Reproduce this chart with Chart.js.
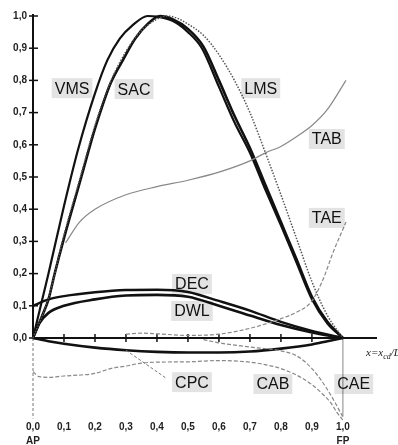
<!DOCTYPE html>
<html><head><meta charset="utf-8">
<script src="https://cdn.jsdelivr.net/npm/chart.js@4/dist/chart.umd.min.js"></script>
<style>html,body{margin:0;padding:0;background:#fff}</style>
</head><body>
<canvas id="c" width="398" height="445"></canvas>
<script>
// ---- tick values ----
const xTicks = [0, 0.1, 0.2, 0.3, 0.4, 0.5, 0.6, 0.7, 0.8, 0.9, 1.0];
const yTicks = [0, 0.1, 0.2, 0.3, 0.4, 0.5, 0.6, 0.7, 0.8, 0.9, 1.0];
const xEndLabels = {0: 'AP', 1: 'FP'};

// ---- series ----
const vmsX = [0, 0.03, 0.05, 0.1, 0.145, 0.2, 0.24, 0.28, 0.32, 0.37, 0.4, 0.45, 0.5, 0.545, 0.6, 0.65, 0.7, 0.75, 0.8, 0.85, 0.9, 0.95, 1.0];
const vmsY = [0, 0.12, 0.2, 0.41, 0.584, 0.76, 0.863, 0.93, 0.97, 1.0, 0.998, 0.985, 0.95, 0.9, 0.78, 0.67, 0.575, 0.46, 0.35, 0.235, 0.12, 0.045, 0];

const sacX = [0, 0.03, 0.05, 0.07, 0.1, 0.15, 0.18, 0.2, 0.25, 0.29, 0.33, 0.37, 0.41, 0.45, 0.5, 0.55, 0.6, 0.65, 0.7, 0.75, 0.8, 0.85, 0.9, 0.95, 1.0];
const sacY = [0, 0.07, 0.12, 0.2, 0.31, 0.48, 0.584, 0.65, 0.79, 0.863, 0.93, 0.975, 1.0, 0.99, 0.96, 0.905, 0.8, 0.69, 0.59, 0.475, 0.36, 0.245, 0.128, 0.05, 0];

const lmsX = [0, 0.05, 0.1, 0.15, 0.2, 0.25, 0.3, 0.35, 0.4, 0.43, 0.46, 0.5, 0.55, 0.6, 0.65, 0.7, 0.75, 0.8, 0.85, 0.9, 0.95, 1.0];
const lmsY = [0, 0.125, 0.32, 0.49, 0.66, 0.795, 0.89, 0.955, 0.99, 1.0, 0.995, 0.975, 0.94, 0.88, 0.8, 0.7, 0.575, 0.445, 0.31, 0.175, 0.07, 0];

const tabX = [0.105, 0.15, 0.2, 0.3, 0.4, 0.5, 0.6, 0.7, 0.75, 0.8, 0.85, 0.9, 0.95, 1.01];
const tabY = [0.295, 0.36, 0.40, 0.445, 0.47, 0.49, 0.515, 0.55, 0.575, 0.595, 0.625, 0.66, 0.71, 0.80];

const taeX = [0.3, 0.35, 0.4, 0.5, 0.6, 0.7, 0.8, 0.85, 0.9, 0.935, 0.97, 1.01];
const taeY = [0.012, 0.015, 0.013, 0.008, 0.012, 0.03, 0.06, 0.08, 0.115, 0.18, 0.27, 0.36];

const decX = [0, 0.05, 0.1, 0.2, 0.3, 0.4, 0.5, 0.6, 0.7, 0.8, 0.9, 1.0];
const decY = [0.10, 0.12, 0.13, 0.142, 0.149, 0.15, 0.143, 0.115, 0.085, 0.05, 0.022, 0];

const dwlX = [0, 0.02, 0.05, 0.1, 0.2, 0.3, 0.4, 0.5, 0.6, 0.7, 0.8, 0.9, 1.0];
const dwlY = [0, 0.045, 0.078, 0.1, 0.12, 0.132, 0.134, 0.128, 0.1, 0.07, 0.04, 0.017, 0];

const cpcX = [0, 0.05, 0.1, 0.2, 0.3, 0.4, 0.5, 0.6, 0.7, 0.8, 0.9, 0.95, 1.0];
const cpcY = [0, -0.01, -0.018, -0.03, -0.038, -0.043, -0.045, -0.045, -0.042, -0.033, -0.02, -0.01, 0];

const cabX = [0, 0.02, 0.05, 0.1, 0.15, 0.2, 0.25, 0.3, 0.35, 0.4, 0.5, 0.6, 0.7, 0.76, 0.8, 0.86, 0.9, 0.93, 0.96, 0.98, 1.0];
const cabY = [-0.105, -0.12, -0.122, -0.118, -0.115, -0.11, -0.095, -0.087, -0.078, -0.075, -0.074, -0.07, -0.075, -0.085, -0.095, -0.12, -0.145, -0.17, -0.2, -0.23, -0.255];

const caeX = [0.55, 0.6, 0.7, 0.8, 0.85, 0.9, 0.95, 1.0];
const caeY = [-0.005, -0.015, -0.028, -0.04, -0.055, -0.095, -0.16, -0.245];

// ---- curve labels (text, x, y in data units) ----
const labelText = ['VMS', 'SAC', 'LMS', 'TAB', 'TAE', 'DEC', 'DWL', 'CPC', 'CAB', 'CAE'];
const labelX = [0.126, 0.326, 0.735, 0.948, 0.948, 0.513, 0.513, 0.513, 0.774, 1.035];
const labelY = [0.776, 0.773, 0.776, 0.618, 0.373, 0.168, 0.084, -0.137, -0.143, -0.143];

// CPC leader line (data units)
const leaderX = [0.3, 0.43];
const leaderY = [-0.038, -0.125];

const FONT = '"Liberation Sans", Arial, sans-serif';
const toPts = (xs, ys) => xs.map((x, i) => ({x, y: ys[i]}));
const fmt = v => v.toFixed(1).replace('.', ',');

function ds(label, xs, ys, color, width, dash) {
  return {
    label, data: toPts(xs, ys), borderColor: color, borderWidth: width,
    borderDash: dash || [], pointRadius: 0, fill: false,
    cubicInterpolationMode: 'monotone', clip: false
  };
}

const axesPlugin = {
  id: 'axesPlugin',
  beforeDatasetsDraw(chart) {
    const {ctx, scales: {x, y}} = chart;
    const x0 = x.getPixelForValue(0), y0 = y.getPixelForValue(0);
    const x1 = x.getPixelForValue(1);
    ctx.save();
    // lower dashed parts
    ctx.strokeStyle = '#777'; ctx.lineWidth = 1; ctx.setLineDash([3, 2]);
    ctx.beginPath(); ctx.moveTo(x0, y0); ctx.lineTo(x0, y.getPixelForValue(y.min)); ctx.stroke();
    ctx.setLineDash([]);
    ctx.strokeStyle = '#888';
    ctx.beginPath(); ctx.moveTo(x1, y0); ctx.lineTo(x1, y.getPixelForValue(y.min) - 2); ctx.stroke();
    // y axis
    ctx.strokeStyle = '#111'; ctx.lineWidth = 2;
    ctx.beginPath(); ctx.moveTo(x0, y.getPixelForValue(1) - 2); ctx.lineTo(x0, y0); ctx.stroke();
    ctx.lineWidth = 1.5;
    yTicks.forEach(v => {
      const p = y.getPixelForValue(v);
      ctx.beginPath(); ctx.moveTo(x0 - 4, p); ctx.lineTo(x0 + 5, p); ctx.stroke();
    });
    // x axis
    ctx.lineWidth = 2;
    ctx.beginPath(); ctx.moveTo(x0, y0); ctx.lineTo(x.right, y0); ctx.stroke();
    ctx.lineWidth = 1.5;
    xTicks.forEach(v => {
      if (v === 0 || v === 1) return;
      const p = x.getPixelForValue(v);
      ctx.beginPath(); ctx.moveTo(p, y0 - 4); ctx.lineTo(p, y0 + 4); ctx.stroke();
    });
    // axis title x = x_cd / L
    ctx.fillStyle = '#222';
    ctx.textBaseline = 'alphabetic'; ctx.textAlign = 'left';
    let tx = x.right - 11, ty = y0 + 18;
    ctx.font = 'italic 11px "Liberation Serif", serif';
    ctx.fillText('x=x', tx, ty); tx += ctx.measureText('x=x').width;
    ctx.font = 'italic 8px "Liberation Serif", serif';
    ctx.fillText('cd', tx, ty + 3); tx += ctx.measureText('cd').width;
    ctx.font = 'italic 11px "Liberation Serif", serif';
    ctx.fillText('/L', tx, ty);
    ctx.restore();
  },
  afterDatasetsDraw(chart) {
    const {ctx, scales: {x, y}} = chart;
    ctx.save();
    // leader line
    ctx.strokeStyle = '#777'; ctx.lineWidth = 1; ctx.setLineDash([3, 2]);
    ctx.beginPath();
    ctx.moveTo(x.getPixelForValue(leaderX[0]), y.getPixelForValue(leaderY[0]));
    ctx.lineTo(x.getPixelForValue(leaderX[1]), y.getPixelForValue(leaderY[1]));
    ctx.stroke();
    ctx.setLineDash([]);
    ctx.font = '16px ' + FONT;
    ctx.textAlign = 'center'; ctx.textBaseline = 'middle';
    labelText.forEach((t, i) => {
      const px = x.getPixelForValue(labelX[i]), py = y.getPixelForValue(labelY[i]);
      const w = ctx.measureText(t).width;
      ctx.fillStyle = 'rgba(0,0,0,0.11)';
      ctx.fillRect(px - w / 2 - 3, py - 10, w + 6, 20);
      ctx.fillStyle = '#111';
      ctx.fillText(t, px, py + 1);
    });
    ctx.restore();
  }
};

new Chart(document.getElementById('c'), {
  type: 'line',
  data: {
    datasets: [
      ds('LMS', lmsX, lmsY, '#555', 1.5, [1.5, 1.5]),
      ds('TAB', tabX, tabY, '#888', 1.2),
      ds('TAE', taeX, taeY, '#888', 1.2, [4, 2]),
      ds('CAB', cabX, cabY, '#888', 1.2, [4, 2]),
      ds('CAE', caeX, caeY, '#888', 1.2, [4, 2]),
      ds('VMS', vmsX, vmsY, '#111', 2.2),
      ds('SAC', sacX, sacY, '#111', 2.6),
      ds('DEC', decX, decY, '#111', 2.4),
      ds('DWL', dwlX, dwlY, '#111', 2.6),
      ds('CPC', cpcX, cpcY, '#111', 2.6)
    ]
  },
  options: {
    responsive: false, devicePixelRatio: 1, animation: false,
    layout: {padding: {top: 16, right: 21, left: 0, bottom: 0}},
    plugins: {legend: {display: false}, tooltip: {enabled: false}},
    scales: {
      x: {
        type: 'linear', min: 0, max: 1.11,
        afterBuildTicks: s => { s.ticks = xTicks.map(v => ({value: v})); },
        afterFit: s => { s.height = 26.5; },
        grid: {display: false, drawTicks: false}, border: {display: false},
        ticks: {
          padding: 2, autoSkip: false, maxRotation: 0, color: '#222',
          font: {family: FONT, size: 10, weight: 'bold', lineHeight: 1.4},
          callback: v => xEndLabels[v] !== undefined ? [fmt(v), xEndLabels[v]] : fmt(v)
        }
      },
      y: {
        type: 'linear', min: -0.25, max: 1.0,
        afterBuildTicks: s => { s.ticks = yTicks.map(v => ({value: v})); },
        afterFit: s => { s.width = 33; },
        grid: {display: false, drawTicks: false}, border: {display: false},
        ticks: {
          padding: 6, autoSkip: false, color: '#222',
          font: {family: FONT, size: 10, weight: 'bold'},
          callback: v => fmt(v)
        }
      }
    }
  },
  plugins: [axesPlugin]
});
</script>
</body></html>
